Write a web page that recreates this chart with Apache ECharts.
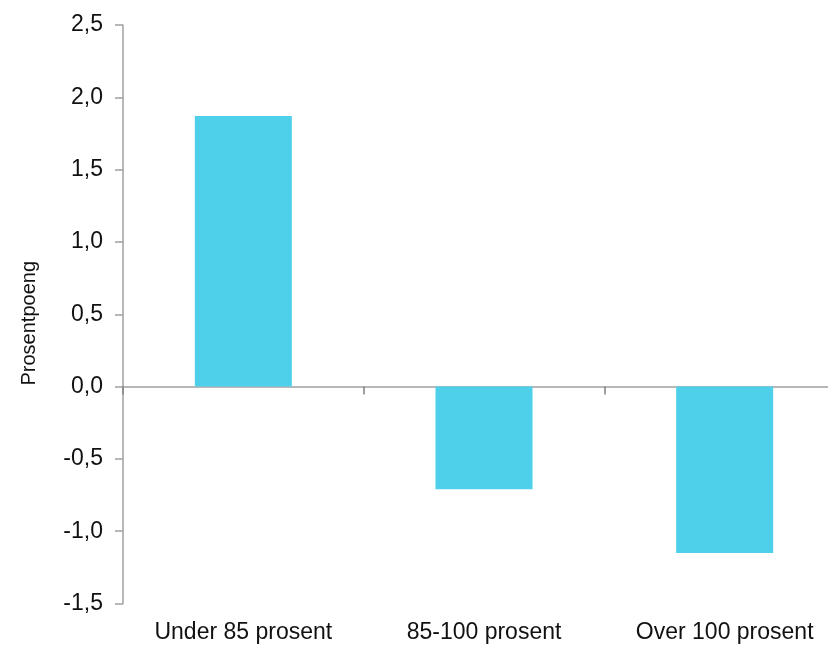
<!DOCTYPE html>
<html>
<head>
<meta charset="utf-8">
<script src="https://cdn.jsdelivr.net/npm/echarts@6/dist/echarts.min.js"></script>
<style>
html,body{margin:0;padding:0;background:#fff;overflow:hidden;}
#chart{width:845px;height:647px;}
</style>
</head>
<body>
<div id="chart"></div>
<script>
const categories = ['Under 85 prosent', '85-100 prosent', 'Over 100 prosent'];
const values = [1.87, -0.71, -1.15];
const yAxisTitle = 'Prosentpoeng';

const chart = echarts.init(document.getElementById('chart'), null, {renderer: 'canvas'});
const fontFamily = 'Liberation Sans, Arial, sans-serif';
chart.setOption({
  animation: false,
  backgroundColor: '#fff',
  grid: {left: 123, top: 25, right: 0, bottom: 43.5, containLabel: false},
  xAxis: [
    {
      type: 'category',
      data: categories,
      axisLine: {onZero: true, lineStyle: {color: '#a0a0a0', width: 1.5}},
      axisTick: {show: true, length: 8, lineStyle: {color: '#808080', width: 1.5}},
      axisLabel: {show: false},
      splitLine: {show: false}
    },
    {
      type: 'category',
      data: categories,
      position: 'bottom',
      axisLine: {show: false, onZero: false},
      axisTick: {show: false},
      axisLabel: {show: true, margin: 18, fontSize: 23, color: '#111', fontFamily: fontFamily},
      splitLine: {show: false}
    }
  ],
  yAxis: {
    type: 'value',
    min: -1.5,
    max: 2.5,
    interval: 0.5,
    name: yAxisTitle,
    nameLocation: 'middle',
    nameGap: 84,
    nameRotate: 90,
    nameTextStyle: {fontSize: 20, color: '#111', fontFamily: fontFamily, padding: [0, 18, 0, 0]},
    axisLine: {show: true, lineStyle: {color: '#a0a0a0', width: 1.5}},
    axisTick: {show: true, length: 8, lineStyle: {color: '#a0a0a0', width: 1.5}},
    axisLabel: {
      margin: 20,
      fontSize: 23,
      color: '#111',
      fontFamily: fontFamily,
      formatter: v => v.toFixed(1).replace('.', ',')
    },
    splitLine: {show: false}
  },
  series: [{
    type: 'bar',
    xAxisIndex: 0,
    data: values,
    barWidth: 97,
    itemStyle: {color: '#4ED0EB'}
  }]
});
</script>
</body>
</html>
